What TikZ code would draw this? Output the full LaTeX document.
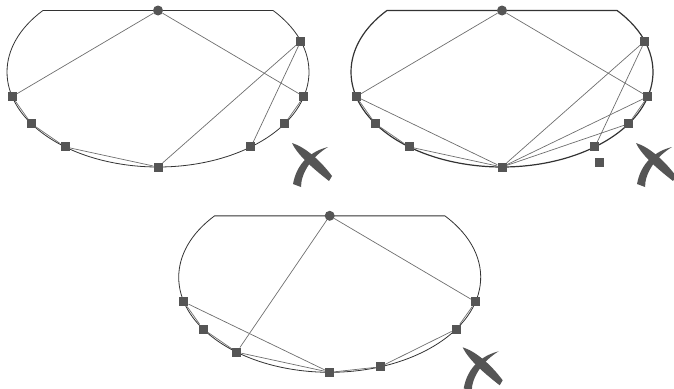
\documentclass[tikz,border=0pt]{standalone}
\usetikzlibrary{positioning}
\definecolor{markgray}{HTML}{555555}
\definecolor{edgegray}{HTML}{6E6E6E}
\tikzstyle{vert} = [rectangle, fill=markgray, inner sep=0pt, minimum size=9pt]
\tikzstyle{root} = [circle, fill=markgray, inner sep=0pt, minimum size=10pt]
\tikzstyle{edge} = [draw=edgegray, line width=0.7pt]
\tikzstyle{bowl} = [draw=black!80, line width=0.8pt]
\tikzset{brushx/.pic={
  \fill[markgray] (-18,-21) .. controls (-5,-17) and (10,-4) .. (22,12) -- (19,17) .. controls (5,6) and (-12,-8) .. (-18,-21) -- cycle;
  \fill[markgray] (18,-17) .. controls (2,-13) and (-13,-2) .. (-17,20) -- (-9,23) .. controls (-9,8) and (3,-8) .. (18,-17) -- cycle;
}}

\begin{document}
\begin{tikzpicture}[x=1pt, y=-1pt]
\useasboundingbox (0,0) rectangle (674,388);
% first panel
\begin{scope}[shift={(158,72)}]
\draw[bowl] (-40.3:151 and 95) arc[start angle=-40.3, end angle=220.3, x radius=151, y radius=95] -- cycle;
\node[root] (a-top) at (0,-61.5) {};
\node[vert] (a-ru) at (-19:151 and 95) {};
\node[vert] (a-r1) at (15:151 and 95) {};
\node[vert] (a-r2) at (33:151 and 95) {};
\node[vert] (a-r3) at (52:151 and 95) {};
\node[vert] (a-b) at (90:151 and 95) {};
\node[vert] (a-l3) at (128:151 and 95) {};
\node[vert] (a-l2) at (147:151 and 95) {};
\node[vert] (a-l1) at (165:151 and 95) {};
\pic (a-x) at (152,92) {brushx};
\draw[edge] (a-top) -- (a-l1);
\draw[edge] (a-top) -- (a-r1);
\draw[edge] (a-ru) -- (a-b);
\draw[edge] (a-ru) -- (a-r3);
\draw[edge] (a-l1) -- (a-l2);
\draw[edge] (a-l2) -- (a-l3);
\draw[edge] (a-l3) -- (a-b);
\draw[edge] (a-r1) -- (a-r2);
\end{scope}
% second panel
\begin{scope}[shift={(502,72)}]
\draw[bowl, line width=1.2pt] (-40.3:151 and 95) arc[start angle=-40.3, end angle=220.3, x radius=151, y radius=95] -- cycle;
\node[root] (b-top) at (0,-61.5) {};
\node[vert] (b-ru) at (-19:151 and 95) {};
\node[vert] (b-r1) at (15:151 and 95) {};
\node[vert] (b-r2) at (33:151 and 95) {};
\node[vert] (b-r3) at (52:151 and 95) {};
\node[vert] (b-b) at (90:151 and 95) {};
\node[vert] (b-l3) at (128:151 and 95) {};
\node[vert] (b-l2) at (147:151 and 95) {};
\node[vert] (b-l1) at (165:151 and 95) {};
\node[vert] (b-free) at (97.5,90.5) {};
\pic (b-x) at (152,92) {brushx};
\draw[edge] (b-top) -- (b-l1);
\draw[edge] (b-top) -- (b-r1);
\draw[edge] (b-l1) -- (b-b);
\draw[edge] (b-ru) -- (b-b);
\draw[edge] (b-ru) -- (b-r3);
\draw[edge] (b-r1) -- (b-b);
\draw[edge] (b-r2) -- (b-b);
\draw[edge] (b-l1) -- (b-l2);
\draw[edge] (b-l2) -- (b-l3);
\draw[edge] (b-l3) -- (b-b);
\draw[edge] (b-r1) -- (b-r2);
\end{scope}
% third panel
\begin{scope}[shift={(329.7,277.3)}]
\draw[bowl] (-40.3:151 and 95) arc[start angle=-40.3, end angle=220.3, x radius=151, y radius=95] -- cycle;
\node[root] (c-top) at (0,-61.5) {};
\node[vert] (c-r1) at (15:151 and 95) {};
\node[vert] (c-r2) at (33:151 and 95) {};
\node[vert] (c-r3) at (70.5:151 and 95) {};
\node[vert] (c-b) at (90:151 and 95) {};
\node[vert] (c-l3) at (128:151 and 95) {};
\node[vert] (c-l2) at (147:151 and 95) {};
\node[vert] (c-l1) at (165:151 and 95) {};
\pic (c-x) at (151,91) {brushx};
\draw[edge] (c-top) -- (c-l3);
\draw[edge] (c-top) -- (c-r1);
\draw[edge] (c-l1) -- (c-b);
\draw[edge] (c-l1) -- (c-l2);
\draw[edge] (c-l2) -- (c-l3);
\draw[edge] (c-l3) -- (c-b);
\draw[edge] (c-b) -- (c-r3);
\draw[edge] (c-r3) -- (c-r2);
\draw[edge] (c-r2) -- (c-r1);
\end{scope}
\end{tikzpicture}
\end{document}
